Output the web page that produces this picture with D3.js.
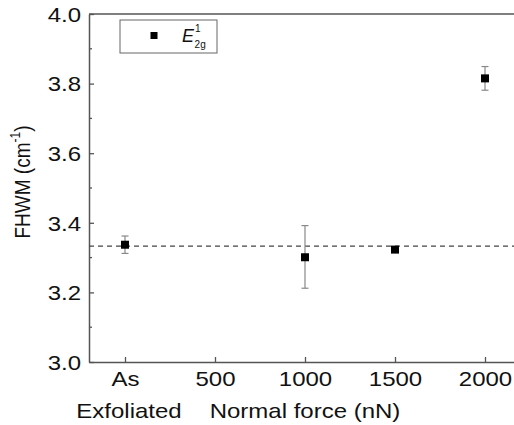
<!DOCTYPE html>
<html>
<head>
<meta charset="utf-8">
<script src="https://cdn.jsdelivr.net/npm/d3@7"></script>
<style>
  body { margin: 0; background: #fff; }
  text { font-family: "Liberation Sans", Arial, sans-serif; }
</style>
</head>
<body>
<div id="chart"></div>
<script>
// data
var forces = [0, 1000, 1500, 2000];          // 0 = "As Exfoliated"
var fwhm = [3.337, 3.301, 3.323, 3.815];
var errLow = [3.312, 3.212, 3.323, 3.781];
var errHigh = [3.362, 3.392, 3.323, 3.849];
var refLine = 3.333;
var xTicks = [0, 500, 1000, 1500, 2000];
var yTicks = [3.0, 3.2, 3.4, 3.6, 3.8, 4.0];
var yMinor = [3.1, 3.3, 3.5, 3.7, 3.9];

var width = 514, height = 425;
var margins = { top: 14, left: 89, right: -7, bottom: 63 };
var fs = '20px', sx = 1.2;   // the source text is a bit wide

var svg = d3.select('div#chart')
            .append('svg')
            .attr('width', width)
            .attr('height', height);

var xScale = d3.scaleLinear()
               .domain([-200, 2200])
               .range([margins.left, width - margins.right]);

var yScale = d3.scaleLinear()
               .domain([3.0, 4.0])
               .range([height - margins.bottom, margins.top]);

var axisColor = '#555';

// top line of the frame
svg.append('line')
   .attr('x1', margins.left).attr('x2', width - margins.right)
   .attr('y1', yScale(4.0)).attr('y2', yScale(4.0))
   .attr('stroke', axisColor).attr('stroke-width', 1.5);

var xAxis = d3.axisBottom(xScale)
              .tickValues(xTicks)
              .tickSizeInner(-5)
              .tickSizeOuter(0)
              .tickFormat(function (d) { return d === 0 ? 'As' : d; });

var gx = svg.append('g')
   .attr('transform', 'translate(0,' + yScale(3.0) + ')')
   .call(xAxis);
gx.select('.domain').attr('stroke', axisColor).attr('stroke-width', 1.5);
gx.selectAll('.tick line').attr('stroke', axisColor).attr('stroke-width', 1.3);
gx.selectAll('.tick text')
  .attr('y', 24)
  .attr('dy', 0)
  .attr('transform', 'scale(' + sx + ',1)')
  .attr('fill', '#111')
  .style('font-size', fs);

var yAxis = d3.axisLeft(yScale)
              .tickValues(yTicks)
              .tickSizeInner(-5)
              .tickSizeOuter(0)
              .tickFormat(d3.format('.1f'));

var gy = svg.append('g')
   .attr('transform', 'translate(' + margins.left + ',0)')
   .call(yAxis);
gy.select('.domain').attr('stroke', axisColor).attr('stroke-width', 1.5);
gy.selectAll('.tick line').attr('stroke', axisColor).attr('stroke-width', 1.3);
gy.selectAll('.tick text')
  .attr('x', -8 / sx)
  .attr('dy', '0.36em')
  .attr('transform', 'scale(' + sx + ',1)')
  .attr('fill', '#111')
  .style('font-size', fs);

svg.append('g')
   .selectAll('line')
   .data(yMinor)
   .enter()
   .append('line')
   .attr('x1', margins.left).attr('x2', margins.left + 3)
   .attr('y1', function (d) { return yScale(d); })
   .attr('y2', function (d) { return yScale(d); })
   .attr('stroke', axisColor).attr('stroke-width', 1.3);

// second line of the first x label and axis title
svg.append('text')
   .attr('transform', 'translate(' + (xScale(0) + 4) + ',418) scale(' + sx + ',1)')
   .attr('text-anchor', 'middle')
   .attr('fill', '#111')
   .style('font-size', fs)
   .text('Exfoliated');

svg.append('text')
   .attr('transform', 'translate(305,418) scale(' + sx + ',1)')
   .attr('text-anchor', 'middle')
   .attr('fill', '#111')
   .style('font-size', fs)
   .text('Normal force (nN)');

var ylab = svg.append('text')
   .attr('transform', 'translate(30,182) rotate(-90) scale(1,' + sx + ')')
   .attr('text-anchor', 'middle')
   .attr('fill', '#111')
   .style('font-size', '19px');
ylab.append('tspan').text('FHWM (cm');
ylab.append('tspan').attr('dy', -8).style('font-size', '12px').text('-1');
ylab.append('tspan').attr('dy', 8).text(')');

// dashed reference line
svg.append('line')
   .attr('x1', margins.left).attr('x2', width - margins.right)
   .attr('y1', yScale(refLine)).attr('y2', yScale(refLine))
   .attr('stroke', '#444')
   .attr('stroke-width', 1.3)
   .attr('stroke-dasharray', '5,4');

// error bars
var pts = forces.map(function (f, i) {
  return { x: f, y: fwhm[i], lo: errLow[i], hi: errHigh[i] };
});
var errG = svg.append('g').attr('stroke', '#888').attr('stroke-width', 1.2);
pts.filter(function (d) { return d.hi - d.lo > 0.001; }).forEach(function (d) {
  var cx = xScale(d.x);
  errG.append('line')
      .attr('x1', cx).attr('x2', cx)
      .attr('y1', yScale(d.lo)).attr('y2', yScale(d.hi));
  [d.lo, d.hi].forEach(function (v) {
    errG.append('line')
        .attr('x1', cx - 3.5).attr('x2', cx + 3.5)
        .attr('y1', yScale(v)).attr('y2', yScale(v));
  });
});

// markers
svg.selectAll('rect.pt')
   .data(pts)
   .enter()
   .append('rect')
   .attr('class', 'pt')
   .attr('x', function (d) { return xScale(d.x) - 4; })
   .attr('y', function (d) { return yScale(d.y) - 4; })
   .attr('width', 8)
   .attr('height', 8)
   .attr('fill', '#000');

// legend
var lg = svg.append('g');
lg.append('rect')
  .attr('x', 120).attr('y', 20)
  .attr('width', 97).attr('height', 33)
  .attr('fill', '#fff')
  .attr('stroke', '#666')
  .attr('stroke-width', 1);
lg.append('rect')
  .attr('x', 150.5).attr('y', 32)
  .attr('width', 7).attr('height', 7)
  .attr('fill', '#000');
var lt = lg.append('text')
  .attr('x', 182)
  .attr('y', 42)
  .attr('fill', '#111')
  .style('font-size', '18px');
lt.append('tspan').style('font-style', 'italic').text('E');
lt.append('tspan').attr('dx', 1).attr('dy', -10).style('font-size', '10px').text('1');
lt.append('tspan').attr('dx', -6).attr('dy', 16).style('font-size', '10px').text('2g');
</script>
</body>
</html>
